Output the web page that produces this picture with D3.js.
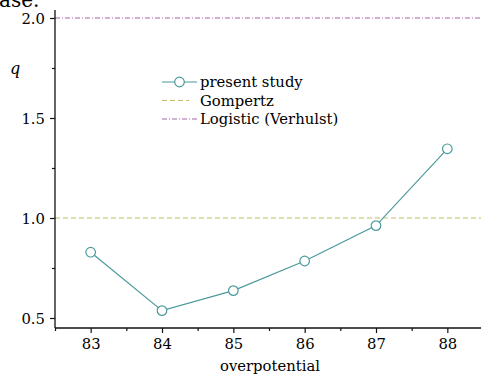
<!DOCTYPE html>
<html>
<head>
<meta charset="utf-8">
<script src="https://cdn.jsdelivr.net/npm/d3@7"></script>
<style>
  html, body { margin: 0; padding: 0; background: #fff; }
  svg { display: block; }
  text { font-family: "DejaVu Serif", serif; fill: #000; }
</style>
</head>
<body>
<svg id="chart" width="481" height="376"></svg>
<script>
// q versus overpotential
const overpotential = [83, 84, 85, 86, 87, 88];
const qValues = [0.829, 0.537, 0.637, 0.785, 0.962, 1.346];
const gompertzQ = 1.0;
const logisticQ = 2.0;
const xTicks = [83, 84, 85, 86, 87, 88];
const xMinorTicks = [82.5, 83.5, 84.5, 85.5, 86.5, 87.5];
const yTicks = [0.5, 1.0, 1.5, 2.0];
const yMinorTicks = [0.75, 1.25, 1.75];
const legendLabels = ["present study", "Gompertz", "Logistic (Verhulst)"];

const svg = d3.select("#chart");
const W = 481, H = 376;
const serif = "DejaVu Serif";
const fontSize = "14.8px";

const teal = "#4c9a9c";
const olive = "#c2c064";
const purple = "#a865a8";

const x = d3.scaleLinear().domain([82.5, 88.5]).range([55, 483]);
const y = d3.scaleLinear().domain([0.45, 2.0]).range([328, 18]);

// fragment of surrounding text at the top edge
svg.append("text")
  .attr("x", -1).attr("y", 7)
  .style("font-family", serif)
  .style("font-size", "20px")
  .text("ase.");

// reference lines
svg.append("line")
  .attr("x1", x(82.5)).attr("x2", W)
  .attr("y1", y(logisticQ)).attr("y2", y(logisticQ))
  .attr("stroke", purple).attr("stroke-width", 1)
  .attr("stroke-dasharray", "5,2,1,2");

svg.append("line")
  .attr("x1", x(82.5)).attr("x2", W)
  .attr("y1", y(gompertzQ)).attr("y2", y(gompertzQ))
  .attr("stroke", olive).attr("stroke-width", 1.2)
  .attr("stroke-dasharray", "5,3");

// axes
const xAxis = d3.axisBottom(x).tickValues(xTicks).tickFormat(d3.format("d"))
  .tickSize(5).tickSizeOuter(0).tickPadding(5);
const gx = svg.append("g").attr("transform", `translate(0,${y(0.45)})`).call(xAxis);
gx.select(".domain").attr("d", `M${x(82.5)},0H${W}`).attr("stroke", "#111").attr("stroke-width", 1.3);
gx.selectAll(".tick line").attr("stroke", "#111").attr("stroke-width", 1.2);
gx.selectAll(".tick text").style("font-size", fontSize)
  .style("font-family", serif).attr("fill", "#000");

const xMinor = d3.axisBottom(x).tickValues(xMinorTicks).tickFormat("").tickSize(3).tickSizeOuter(0);
const gxm = svg.append("g").attr("transform", `translate(0,${y(0.45)})`).call(xMinor);
gxm.select(".domain").remove();
gxm.selectAll(".tick line").attr("stroke", "#111").attr("stroke-width", 1.2);

const yAxis = d3.axisLeft(y).tickValues(yTicks).tickFormat(d3.format(".1f"))
  .tickSize(5).tickSizeOuter(0).tickPadding(5);
const gy = svg.append("g").attr("transform", `translate(${x(82.5)},0)`).call(yAxis);
gy.select(".domain").attr("d", `M0,${y(0.45)}V10`).attr("stroke", "#111").attr("stroke-width", 1.3);
gy.selectAll(".tick line").attr("stroke", "#111").attr("stroke-width", 1.2);
gy.selectAll(".tick text").style("font-size", fontSize)
  .style("font-family", serif).attr("fill", "#000").attr("dy", "0.36em");

const yMinor = d3.axisLeft(y).tickValues(yMinorTicks).tickFormat("").tickSize(3).tickSizeOuter(0);
const gym = svg.append("g").attr("transform", `translate(${x(82.5)},0)`).call(yMinor);
gym.select(".domain").remove();
gym.selectAll(".tick line").attr("stroke", "#111").attr("stroke-width", 1.2);

// axis titles
svg.append("text")
  .attr("x", 270).attr("y", 371)
  .attr("text-anchor", "middle")
  .style("font-family", serif)
  .style("font-size", fontSize)
  .text("overpotential");

svg.append("text")
  .attr("x", 15).attr("y", 74)
  .attr("text-anchor", "middle")
  .style("font-family", serif)
  .style("font-size", "16px").style("font-style", "italic")
  .text("q");

// data series
const pts = overpotential.map((d, i) => ({ x: d, q: qValues[i] }));
const line = d3.line().x(d => x(d.x)).y(d => y(d.q));
svg.append("path")
  .datum(pts)
  .attr("d", line)
  .attr("fill", "none")
  .attr("stroke", teal)
  .attr("stroke-width", 1.2);

svg.selectAll("circle.pt")
  .data(pts)
  .join("circle")
  .attr("class", "pt")
  .attr("cx", d => x(d.x))
  .attr("cy", d => y(d.q))
  .attr("r", 4.8)
  .attr("fill", "#fff")
  .attr("stroke", teal)
  .attr("stroke-width", 1.2);

// legend
const lg = svg.append("g");
const rowY = [82, 100.5, 119];
const sx0 = 162, sx1 = 197;
lg.append("line").attr("x1", sx0).attr("x2", sx1).attr("y1", rowY[0]).attr("y2", rowY[0])
  .attr("stroke", teal).attr("stroke-width", 1.2);
lg.append("circle").attr("cx", (sx0 + sx1) / 2).attr("cy", rowY[0]).attr("r", 4.8)
  .attr("fill", "#fff").attr("stroke", teal).attr("stroke-width", 1.2);
lg.append("line").attr("x1", sx0).attr("x2", 189).attr("y1", rowY[1]).attr("y2", rowY[1])
  .attr("stroke", olive).attr("stroke-width", 1.2).attr("stroke-dasharray", "5,3");
lg.append("line").attr("x1", sx0).attr("x2", sx1).attr("y1", rowY[2]).attr("y2", rowY[2])
  .attr("stroke", purple).attr("stroke-width", 1).attr("stroke-dasharray", "5,2,1,2");

lg.selectAll("text.lbl")
  .data(legendLabels)
  .join("text")
  .attr("class", "lbl")
  .attr("x", 200)
  .attr("y", (d, i) => rowY[i] + 5)
  .style("font-family", serif)
  .style("font-size", fontSize)
  .text(d => d);
</script>
</body>
</html>
